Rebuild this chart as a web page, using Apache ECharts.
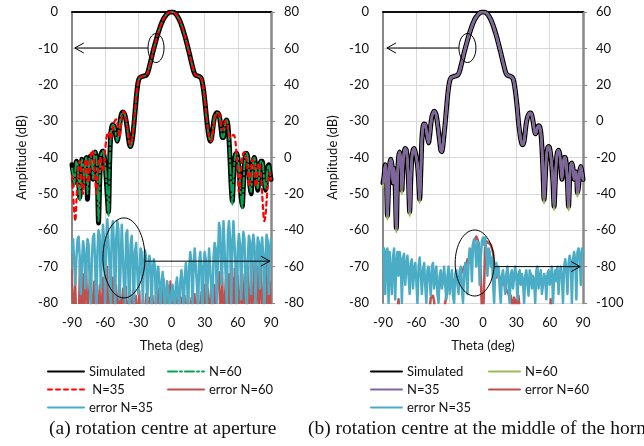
<!DOCTYPE html>
<html>
<head>
<meta charset="utf-8">
<script src="https://cdn.jsdelivr.net/npm/echarts@6/dist/echarts.min.js"></script>
<style>
  html, body { margin: 0; padding: 0; background: #fff; }
  #main { width: 644px; height: 446px; }
</style>
</head>
<body>
<div id="main"></div>
<script>
// angles, one sample per degree from -90 to 90
var theta = [];
for (var t = -90; t <= 90; t++) theta.push(t);

// (a) rotation centre at aperture -- amplitude (dB)
var simA = [
  -42,-44,-47,-44,-41,-42,-46,-51,-45,-40.5,
  -42,-47,-41,-40,-51.5,-44,-40,-39.5,-41,-46,
  -40,-38.5,-40,-46,-58,-47,-40,-38.5,-38.2,-39.5,
  -42,-46,-51,-55,-42,-34,-31.5,-31,-31.3,-32.5,
  -34.5,-35.5,-34,-31.5,-29,-27.8,-27.5,-27.8,-28.5,-30,
  -32,-34.5,-36.5,-37,-36,-34,-31,-27.5,-24,-21,
  -19,-18.2,-17.9,-17.8,-17.7,-17.6,-17.5,-17.4,-17,-16.2,
  -15,-13.8,-12.5,-11.2,-10,-8.9,-7.8,-6.7,-5.7,-4.8,
  -3.9,-3.1,-2.4,-1.8,-1.3,-0.9,-0.5,-0.3,-0.1,0,
  0,
  0,-0.1,-0.3,-0.6,-1,-1.5,-2.1,-2.8,-3.6,-4.5,
  -5.5,-6.5,-7.6,-8.8,-10,-11.2,-12.5,-13.8,-15,-16.2,
  -17,-17.4,-17.5,-17.6,-17.7,-17.9,-18.3,-19.5,-21.5,-24,
  -27,-30,-32.5,-34.5,-35.5,-35,-33,-30.5,-28.8,-28,
  -27.7,-27.8,-28.3,-30,-32.5,-34.5,-34.5,-32,-30,-29.7,
  -31,-35,-41,-48,-52,-46,-41,-39,-38.8,-40,
  -43,-47,-51,-53.5,-48,-42,-39,-38.8,-40,-44,
  -48,-50,-45,-41,-40,-42,-46,-49,-46,-42,
  -41,-41,-43,-47,-49,-46,-43,-42,-44,-46
];
var n60A = [
  -43,-45,-48,-44,-41,-42,-46,-52,-45,-40.5,
  -42,-47,-41.5,-40,-50,-44,-40,-39.5,-41,-46,
  -40,-38.5,-40,-46,-57.5,-47,-40,-38.5,-38.2,-39.5,
  -42,-46,-51,-56,-42,-34,-31.5,-31,-31.3,-32.5,
  -34.5,-35.5,-34,-31.5,-29,-27.8,-27.5,-27.8,-28.5,-30,
  -32,-34.5,-36.5,-37,-36,-34,-31,-27.5,-24,-21,
  -19,-18.2,-17.9,-17.8,-17.7,-17.6,-17.5,-17.4,-17,-16.2,
  -15,-13.8,-12.5,-11.2,-10,-8.9,-7.8,-6.7,-5.7,-4.8,
  -3.9,-3.1,-2.4,-1.8,-1.3,-0.9,-0.5,-0.3,-0.1,0,
  0,
  0,-0.1,-0.3,-0.6,-1,-1.5,-2.1,-2.8,-3.6,-4.5,
  -5.5,-6.5,-7.6,-8.8,-10,-11.2,-12.5,-13.8,-15,-16.2,
  -17,-17.4,-17.5,-17.6,-17.7,-17.9,-18.3,-19.5,-21.5,-24,
  -27,-30,-32.5,-34.5,-35.5,-35,-33,-30.5,-28.8,-28,
  -27.7,-27.8,-28.3,-30,-32.5,-34.5,-34.5,-32,-30,-29.7,
  -31,-35,-41,-48,-53,-46,-41,-39,-38.8,-40,
  -43,-47,-51,-54,-48,-42,-39,-38.8,-40,-44,
  -48,-49.5,-45,-41,-40,-42,-46,-48.5,-46,-42,
  -41,-41,-43,-47,-48.5,-46,-43,-42,-44,-46
];
var n35A = [
  -45,-50,-55,-57.5,-52,-46,-42,-41,-43,-48,
  -50,-45,-41,-40.5,-43,-47,-44,-39.5,-38,-38.5,
  -41,-46,-50,-46,-42,-40,-40.5,-42.5,-44,-42,
  -38,-35,-33.5,-33,-33.5,-35,-34,-32,-30.5,-29.8,
  -29.5,-30.5,-33,-34.5,-32,-29,-27.5,-27.3,-28,-29.5,
  -31.5,-33.5,-35.5,-36.5,-35.5,-33.5,-30.5,-27,-23.5,-20.8,
  -18.8,-18.1,-17.9,-17.8,-17.7,-17.6,-17.5,-17.3,-16.9,-16.1,
  -15,-13.8,-12.5,-11.2,-10,-8.9,-7.8,-6.7,-5.7,-4.8,
  -3.9,-3.1,-2.4,-1.8,-1.3,-0.9,-0.5,-0.3,-0.1,0,
  0,
  0,-0.1,-0.3,-0.6,-1,-1.5,-2.1,-2.8,-3.6,-4.5,
  -5.5,-6.5,-7.6,-8.8,-10,-11.2,-12.5,-13.8,-15,-16.2,
  -17,-17.4,-17.5,-17.6,-17.7,-17.9,-18.3,-19.3,-21.2,-23.6,
  -26.5,-29.5,-32,-34,-35,-35.5,-34.5,-32,-30,-28.5,
  -27.8,-27.6,-28,-29,-31,-32.5,-32,-30.5,-30,-30.5,
  -32,-33.5,-34.5,-34.5,-34,-33.8,-34.2,-36,-40,-45,
  -49.5,-48,-43,-40,-38.8,-38.5,-39.5,-41,-44,-48,
  -46,-42,-40.5,-41,-44,-48,-47,-43,-41.5,-42,
  -45,-50,-55,-57.5,-56,-52,-48,-45,-44,-46
];
// (a) errors, right axis
var err60A = [
  -62,-90,-90,-66,-90,-90,-90,-56,-90,-90,
  -64,-90,-90,-59,-90,-90,-66,-60,-90,-90,
  -68,-90,-64,-90,-90,-70,-90,-90,-66,-90,
  -90,-90,-60,-90,-90,-72,-90,-66,-90,-90,
  -70,-90,-90,-66,-90,-90,-72,-90,-90,-71,
  -90,-90,-74,-90,-90,-73,-90,-90,-76,-90,
  -90,-73,-90,-90,-78,-90,-90,-75,-90,-90,
  -77,-90,-90,-76,-90,-90,-74,-90,-72,-90,
  -90,-70,-90,-67,-90,-90,-72,-90,-90,-68,
  -90,
  -90,-75,-90,-90,-78,-73,-90,-90,-77,-90,
  -90,-76,-90,-90,-74,-90,-90,-77,-90,-90,
  -75,-90,-90,-72,-90,-90,-74,-90,-90,-70,
  -90,-90,-72,-90,-90,-68,-90,-90,-70,-90,
  -90,-66,-63,-90,-90,-63,-90,-90,-67,-90,
  -90,-64,-90,-90,-66,-90,-61,-90,-90,-65,
  -90,-90,-62,-90,-90,-64,-90,-90,-60,-90,
  -90,-62,-90,-90,-57,-90,-90,-60,-90,-90,
  -58,-90,-90,-62,-90,-54,-90,-90,-68,-90
];
var err35A = [
  -52,-45,-58,-70,-55,-45,-43.5,-55,-75,-58,
  -46,-50,-72,-60,-45,-48,-68,-82,-55,-44,
  -42,-60,-85,-52,-40,-43,-72,-55,-37,-45,
  -80,-48,-34,-33,-60,-80,-40,-35,-50,-85,
  -45,-35,-40,-78,-60,-37,-38,-70,-80,-42,
  -40,-65,-85,-48,-43,-58,-85,-52,-47,-48,
  -75,-65,-50,-52,-80,-60,-51,-55,-82,-62,
  -54,-58,-85,-62,-56,-60,-82,-65,-60,-68,
  -85,-70,-63,-70,-88,-74,-68,-72,-90,-80,
  -74,
  -70,-78,-85,-70,-66,-75,-88,-68,-62,-70,
  -85,-66,-58,-66,-85,-60,-52,-58,-82,-60,
  -50,-49,-70,-85,-58,-52,-62,-88,-60,-52,
  -56,-80,-65,-50,-50,-72,-85,-55,-47,-50,
  -80,-55,-36,-40,-70,-60,-35,-36,-65,-80,
  -42,-35,-45,-82,-50,-35,-35,-60,-85,-50,
  -42,-48,-78,-52,-41,-45,-72,-85,-55,-43,
  -46,-75,-50,-42.5,-48,-80,-58,-44,-47,-72,
  -50,-44,-55,-85,-55,-42.5,-46,-75,-50,-45
];

// (b) rotation centre at the middle of the horn
var patB = [
  -47,-45,-42,-44,-56,-48,-42,-40.5,-42,-47,
  -43,-48,-59.5,-46,-40,-38.5,-41,-49,-42,-38.5,
  -37.5,-38,-41,-47,-55,-46,-40,-38,-37.5,-38.5,
  -40,-42,-46,-51.5,-44,-35,-31.5,-30.8,-31,-32.5,
  -34.5,-36,-34,-31,-28.8,-27.8,-27.3,-27.6,-28.5,-30.5,
  -33,-35.5,-38,-38.4,-36.5,-33.5,-30.5,-27,-23.5,-20.8,
  -19,-18.2,-17.9,-17.8,-17.7,-17.6,-17.5,-17.4,-17,-16.2,
  -15,-13.8,-12.5,-11.2,-10,-8.9,-7.8,-6.7,-5.7,-4.8,
  -3.9,-3.1,-2.4,-1.8,-1.3,-0.9,-0.5,-0.3,-0.1,0,
  0,
  0,-0.1,-0.3,-0.6,-1,-1.5,-2.1,-2.8,-3.6,-4.5,
  -5.5,-6.5,-7.6,-8.8,-10,-11.2,-12.5,-13.8,-15,-16.2,
  -17,-17.4,-17.5,-17.6,-17.7,-17.9,-18.3,-19.5,-21.5,-24,
  -27,-30.5,-33,-35,-36.3,-36.5,-35.5,-33,-30.5,-29,
  -28.2,-27.8,-27.8,-28.5,-30,-32,-33.5,-33,-31.8,-31.3,
  -31.5,-33,-37,-44,-51.6,-46,-40,-37.5,-37,-37.5,
  -39.5,-42.5,-47,-53.5,-47,-41,-38.5,-38,-39,-42,
  -46,-43,-40,-40,-42,-47,-53.5,-46,-42,-41.5,
  -43,-46,-44,-44,-49.8,-48,-44,-42.5,-44,-46
];
var n60B = [
  -48,-45,-42,-44,-57,-48,-42,-40.5,-42,-47,
  -43,-48,-60.5,-46,-40,-38.5,-41,-50,-42,-38.5,
  -37.5,-38,-41,-47,-56,-46,-40,-38,-37.5,-38.5,
  -40,-42,-46,-52.5,-44,-35,-31.5,-30.8,-31,-32.5,
  -34.5,-36,-34,-31,-28.8,-27.8,-27.3,-27.6,-28.5,-30.5,
  -33,-35.5,-38,-38.4,-36.5,-33.5,-30.5,-27,-23.5,-20.8,
  -19,-18.2,-17.9,-17.8,-17.7,-17.6,-17.5,-17.4,-17,-16.2,
  -15,-13.8,-12.5,-11.2,-10,-8.9,-7.8,-6.7,-5.7,-4.8,
  -3.9,-3.1,-2.4,-1.8,-1.3,-0.9,-0.5,-0.3,-0.1,0,
  0,
  0,-0.1,-0.3,-0.6,-1,-1.5,-2.1,-2.8,-3.6,-4.5,
  -5.5,-6.5,-7.6,-8.8,-10,-11.2,-12.5,-13.8,-15,-16.2,
  -17,-17.4,-17.5,-17.6,-17.7,-17.9,-18.3,-19.5,-21.5,-24,
  -27,-30.5,-33,-35,-36.3,-36.5,-35.5,-33,-30.5,-29,
  -28.2,-27.8,-27.8,-28.5,-30,-32,-33.5,-33,-31.8,-31.3,
  -31.5,-33,-37,-44,-52.6,-46,-40,-37.5,-37,-37.5,
  -39.5,-42.5,-47,-54.5,-47,-41,-38.5,-38,-39,-42,
  -46,-43,-40,-40,-42,-47,-54.5,-46,-42,-41.5,
  -43,-46,-44,-44,-50.8,-48,-44,-42.5,-44,-46
];
var err60B = [
  -110,-110,-110,-110,-110,-110,-110,-110,-110,-110,
  -110,-110,-110,-110,-98,-110,-110,-110,-110,-110,
  -110,-110,-110,-110,-110,-110,-110,-110,-110,-110,
  -110,-110,-110,-110,-110,-110,-110,-110,-110,-110,
  -110,-110,-110,-97,-96,-96,-99,-110,-110,-110,
  -110,-110,-110,-110,-110,-104,-100,-96,-92,-89,
  -86,-87,-89,-90,-88,-86,-87,-85,-84,-86,
  -85,-83,-84,-80,-81,-79,-76,-78,-74,-72,
  -75,-68,-66,-65,-63.5,-65,-67,-72,-85,-105,
  -110,
  -90,-70,-66,-65,-67,-66,-68,-70,-72,-78,
  -82,-86,-87,-84,-86,-88,-90,-88,-89,-91,
  -93,-92,-95,-98,-96,-100,-104,-97,-99,-103,
  -98,-96,-104,-110,-110,-110,-110,-110,-110,-110,
  -110,-110,-110,-110,-110,-110,-110,-110,-110,-110,
  -110,-110,-110,-110,-110,-110,-110,-110,-110,-110,
  -98,-110,-110,-110,-110,-110,-110,-110,-110,-110,
  -110,-110,-110,-110,-110,-110,-110,-110,-110,-110,
  -110,-110,-110,-110,-110,-110,-110,-110,-110,-110
];
var err35B = [
  -72,-70,-95,-72,-70,-100,-72,-71,-95,-75,
  -70,-98,-78,-72,-85,-72,-78,-100,-75,-73,
  -90,-80,-74,-85,-95,-78,-76,-92,-82,-78,
  -88,-100,-80,-75,-85,-95,-82,-78,-90,-100,
  -82,-80,-88,-96,-80,-78,-92,-85,-80,-95,
  -100,-85,-82,-92,-88,-80,-90,-98,-85,-80,
  -95,-88,-82,-96,-100,-84,-82,-90,-95,-82,
  -80,-92,-100,-85,-78,-82,-95,-78,-70,-72,
  -88,-68,-65,-70,-80,-66,-68,-90,-75,-66,
  -64,
  -68,-64,-72,-85,-70,-72,-80,-75,-88,-100,
  -82,-78,-85,-80,-92,-100,-85,-82,-88,-95,
  -84,-80,-90,-100,-84,-82,-92,-86,-80,-85,
  -98,-84,-82,-90,-84,-88,-100,-85,-82,-90,
  -96,-82,-84,-92,-85,-88,-100,-82,-80,-92,
  -86,-82,-95,-90,-84,-86,-98,-84,-82,-90,
  -85,-80,-100,-86,-82,-88,-80,-95,-84,-80,
  -86,-100,-80,-76,-82,-95,-78,-74,-78,-100,
  -76,-72,-76,-98,-72,-70,-74,-90,-70,-72
];

function pairs(arr) {
  return theta.map(function (t, i) { return [t, arr[i]]; });
}

var font = 'Lato';
var lbl = { fontFamily: font, fontSize: 13, color: '#111' };

function xBottom(g) {
  return {
    type: 'value', gridIndex: g, min: -90, max: 90, interval: 30,
    name: 'Theta (deg)', nameLocation: 'middle', nameGap: 36,
    nameTextStyle: lbl,
    axisLine: { lineStyle: { color: '#000', width: 1.5 } },
    axisTick: { show: false },
    axisLabel: Object.assign({ margin: 13 }, lbl),
    splitLine: { lineStyle: { color: '#d9d9d9', width: 1 } }
  };
}
function xTop(g) {
  return {
    type: 'value', gridIndex: g, position: 'top', min: -90, max: 90,
    axisLine: { onZero: false, lineStyle: { color: '#000', width: 1.5 } },
    axisTick: { show: false }, axisLabel: { show: false }, splitLine: { show: false }
  };
}
function yLeft(g) {
  return {
    type: 'value', gridIndex: g, min: -80, max: 0, interval: 10,
    name: 'Amplitude (dB)', nameLocation: 'middle', nameGap: 44,
    nameTextStyle: lbl,
    axisLine: { show: true, onZero: false, lineStyle: { color: '#888', width: 2 } },
    axisTick: { show: false },
    axisLabel: Object.assign({ margin: 14 }, lbl),
    splitLine: { lineStyle: { color: '#d9d9d9', width: 1 } }
  };
}
function yRight(g, min, max) {
  return {
    type: 'value', gridIndex: g, position: 'right', min: min, max: max, interval: 20,
    axisLine: { show: true, onZero: false, lineStyle: { color: '#888', width: 2.5 } },
    axisTick: { show: true, length: 4, lineStyle: { color: '#888', width: 1 } },
    axisLabel: Object.assign({ margin: 13 }, lbl),
    splitLine: { show: false }
  };
}

function ln(name, data, xi, yi, color, width, type, smooth) {
  return {
    name: name, type: 'line', xAxisIndex: xi, yAxisIndex: yi,
    data: pairs(data), symbol: 'none', smooth: smooth || false,
    animation: false, clip: true,
    lineStyle: { color: color, width: width, type: type || 'solid', cap: 'round', join: 'round' },
    itemStyle: { color: color }
  };
}

function leg(name, left, top, w) {
  return {
    data: [name], left: left, top: top, padding: 0,
    itemWidth: w, itemHeight: 12, selectedMode: false,
    itemStyle: { opacity: 0 },
    formatter: function (n) { return n.split('|').pop(); },
    textStyle: { fontFamily: font, fontSize: 13, color: '#111' }
  };
}

var option = {
  backgroundColor: '#fff',
  animation: false,
  grid: [
    { left: 72, top: 12, width: 199, height: 291 },
    { left: 383, top: 12, width: 200, height: 291 }
  ],
  xAxis: [xBottom(0), xTop(0), xBottom(1), xTop(1)],
  yAxis: [yLeft(0), yRight(0, -80, 80), yLeft(1), yRight(1, -100, 60)],
  legend: [
    leg('Simulated', 47, 365, 36),
    leg('N=60', 167, 365, 36),
    leg(' N=35', 47, 383, 36),
    leg('error N=60', 167, 383, 36),
    leg('error N=35', 47, 401, 36),
    leg('b|Simulated', 370, 365, 31),
    leg('b|N=60', 488, 365, 31),
    leg('b|N=35', 370, 383, 31),
    leg('b|error N=60', 488, 383, 31),
    leg('b|error N=35', 370, 401, 31)
  ],
  series: [
    ln('Simulated', simA, 0, 0, '#000', 5, 'solid', 0.25),
    ln('N=60', n60A, 0, 0, '#00a651', 2, [9, 3, 2, 3], 0.25),
    ln(' N=35', n35A, 0, 0, '#ff0000', 2.2, [4, 4], 0.25),
    ln('error N=60', err60A, 0, 1, '#c0504d', 2),
    ln('error N=35', err35A, 0, 1, '#4bacc6', 2.5),
    ln('b|Simulated', patB, 2, 2, '#000', 5, 'solid', 0.25),
    ln('b|N=60', n60B, 2, 2, '#9bbb59', 2.5, 'solid', 0.25),
    ln('b|N=35', patB, 2, 2, '#8064a2', 2.5, 'solid', 0.25),
    ln('b|error N=60', err60B, 2, 3, '#c0504d', 2.5),
    ln('b|error N=35', err35B, 2, 3, '#4bacc6', 2.5)
  ]
};

var chart = echarts.init(document.getElementById('main'), null, { renderer: 'canvas' });
chart.setOption(option);

// annotation ellipses and arrows, placed in data coordinates
function px(xi, yi, x, y) {
  return chart.convertToPixel({ xAxisIndex: xi, yAxisIndex: yi }, [x, y]);
}
function note(xi, yi, cx, cy, rx, ry, toX, toY, dir) {
  var c = px(xi, yi, cx, cy);
  var e = px(xi, yi, toX, toY);
  var startX = dir < 0 ? c[0] - rx : c[0] + rx;
  return [
    { type: 'ellipse', shape: { cx: c[0], cy: c[1], rx: rx, ry: ry },
      style: { fill: null, stroke: '#000', lineWidth: 1 }, z: 100 },
    { type: 'line', shape: { x1: startX, y1: e[1], x2: e[0], y2: e[1] },
      style: { stroke: '#000', lineWidth: 1 }, z: 100 },
    { type: 'polyline', shape: { points: [[e[0] - dir * 9, e[1] - 5], [e[0], e[1]], [e[0] - dir * 9, e[1] + 5]] },
      style: { fill: null, stroke: '#000', lineWidth: 1 }, z: 100 }
  ];
}

var gfx = []
  .concat(note(0, 0, -14, -9.9, 8, 14.5, -87.5, -9.9, -1))
  .concat(note(0, 0, -43, -67.6, 21, 40, 89, -68.5, 1))
  .concat(note(2, 2, -14, -9.9, 8.5, 14.5, -86.5, -9.9, -1))
  .concat(note(2, 2, -7.5, -69, 19.5, 33, 87.5, -70, 1));

gfx.push(
  { type: 'text', left: 49, top: 419, z: 100,
    style: { text: '(a) rotation centre at aperture', font: '19.5px "Liberation Serif"', fill: '#111' } },
  { type: 'text', left: 308, top: 419, z: 100,
    style: { text: '(b) rotation centre at the middle of the horn', font: '19.5px "Liberation Serif"', fill: '#111' } }
);

chart.setOption({ graphic: gfx });
</script>
</body>
</html>
